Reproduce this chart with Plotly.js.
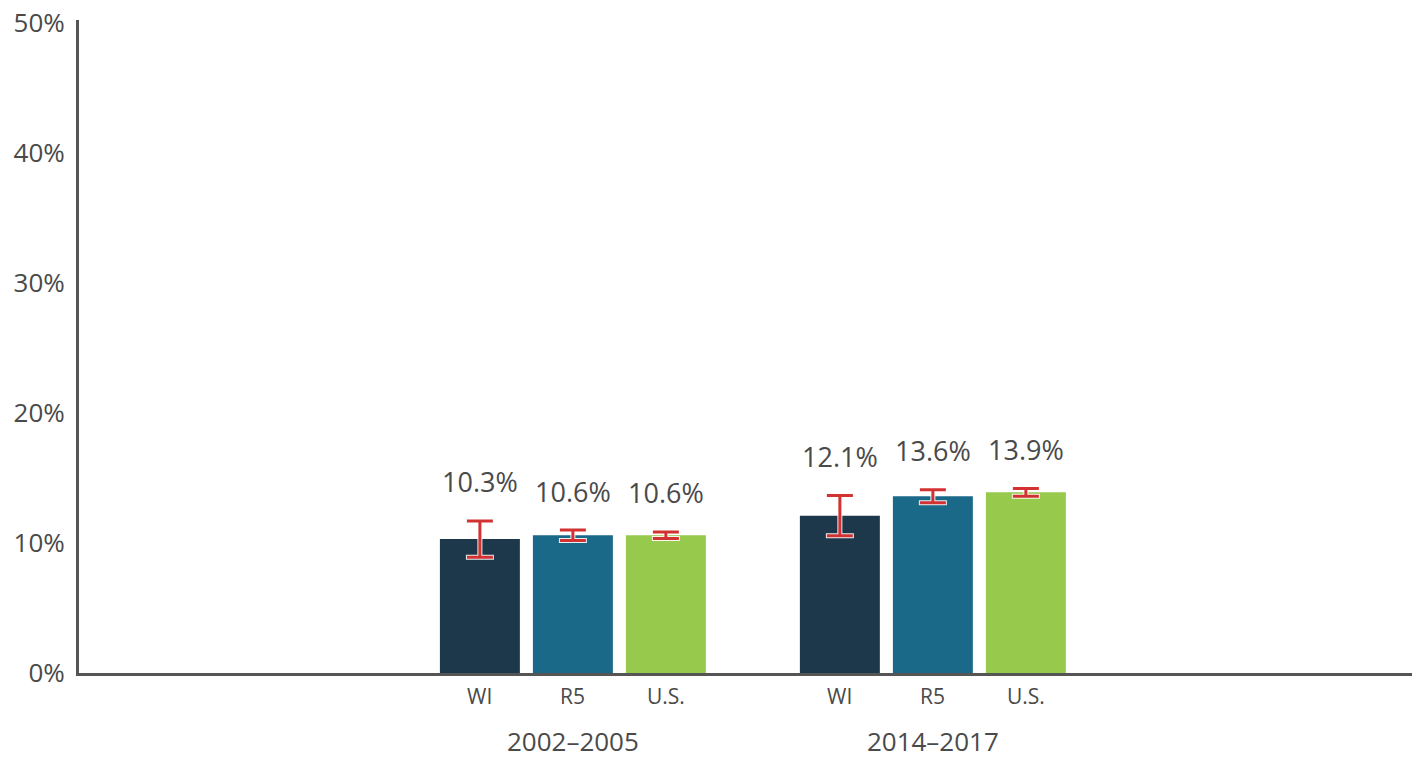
<!DOCTYPE html>
<html>
<head>
<meta charset="utf-8">
<script src="https://cdn.plot.ly/plotly-3.0.1.min.js"></script>
<style>
  html, body { margin: 0; padding: 0; background: #ffffff; }
  #chart { width: 1422px; height: 757px; }
</style>
</head>
<body>
<div id="chart"></div>
<script>
// ---- Data ----
var groups = ['2002–2005', '2014–2017'];
var seriesNames = ['WI', 'R5', 'U.S.'];
var wiValues = [10.3, 12.1];
var r5Values = [10.6, 13.6];
var usValues = [10.6, 13.9];
var wiErr = [1.4, 1.55];
var r5Err = [0.4, 0.5];
var usErr = [0.25, 0.3];
var yTickVals = [0, 10, 20, 30, 40, 50];
var yTickText = ['0%', '10%', '20%', '30%', '40%', '50%'];

// ---- Styles ----
var colors = ['#1d384b', '#1b6988', '#97c94d'];
var errColor = '#d33233';
var textColor = '#4a4a4a';
var fontFam = '"Open Sans", "Noto Sans", sans-serif';

var values = [wiValues, r5Values, usValues];
var errs = [wiErr, r5Err, usErr];

var traces = [];
// real bars
for (var i = 0; i < 3; i++) {
  traces.push({
    type: 'bar', x: groups, y: values[i], name: seriesNames[i],
    offsetgroup: 'g' + i,
    marker: { color: colors[i], line: { width: 0 } },
    hoverinfo: 'skip', showlegend: false
  });
}
// white outline error bars
for (var i = 0; i < 3; i++) {
  traces.push({
    type: 'bar', x: groups, y: values[i], offsetgroup: 'g' + i,
    marker: { color: 'rgba(0,0,0,0)', line: { width: 0 } },
    error_y: { type: 'data', array: errs[i], visible: true, color: 'rgba(255,255,255,0.9)', thickness: 5, width: 14 },
    hoverinfo: 'skip', showlegend: false
  });
}
// red error bars
for (var i = 0; i < 3; i++) {
  traces.push({
    type: 'bar', x: groups, y: values[i], offsetgroup: 'g' + i,
    marker: { color: 'rgba(0,0,0,0)', line: { width: 0 } },
    error_y: { type: 'data', array: errs[i], visible: true, color: errColor, thickness: 3, width: 13 },
    hoverinfo: 'skip', showlegend: false
  });
}

var barStepPx = 93;
var annotations = [];
for (var g = 0; g < groups.length; g++) {
  for (var i = 0; i < 3; i++) {
    // value labels
    annotations.push({
      x: groups[g], y: values[i][g] + errs[i][g], xref: 'x', yref: 'y',
      text: values[i][g].toFixed(1) + '%', showarrow: false,
      xshift: (i - 1) * barStepPx, yshift: 39, yanchor: 'middle',
      font: { family: fontFam, size: 27, color: textColor }
    });
    // series labels under bars
    annotations.push({
      x: groups[g], y: 0, xref: 'x', yref: 'paper',
      text: seriesNames[i], showarrow: false,
      xshift: (i - 1) * barStepPx, yshift: -23, yanchor: 'middle',
      font: { family: fontFam, size: 21, color: textColor }
    });
  }
}

var layout = {
  width: 1422, height: 757,
  margin: { l: 79, r: 10, t: 20, b: 84, pad: 0 },
  paper_bgcolor: '#ffffff', plot_bgcolor: '#ffffff',
  barmode: 'group', bargap: 0.225, bargroupgap: 0.14,
  showlegend: false,
  xaxis: {
    type: 'category', range: [-1.372, 2.331],
    showgrid: false, zeroline: false,
    showline: true, linecolor: '#555555', linewidth: 3,
    ticks: '', ticklabelstandoff: 44,
    tickfont: { family: fontFam, size: 26, color: textColor },
    fixedrange: true
  },
  yaxis: {
    range: [0, 50.23],
    tickvals: yTickVals, ticktext: yTickText,
    showgrid: false, zeroline: false,
    showline: true, linecolor: '#555555', linewidth: 3,
    ticks: '', ticklabelstandoff: 6,
    tickfont: { family: fontFam, size: 26, color: textColor },
    fixedrange: true
  },
  annotations: annotations
};

Plotly.newPlot('chart', traces, layout, { displayModeBar: false, staticPlot: true });
</script>
</body>
</html>
